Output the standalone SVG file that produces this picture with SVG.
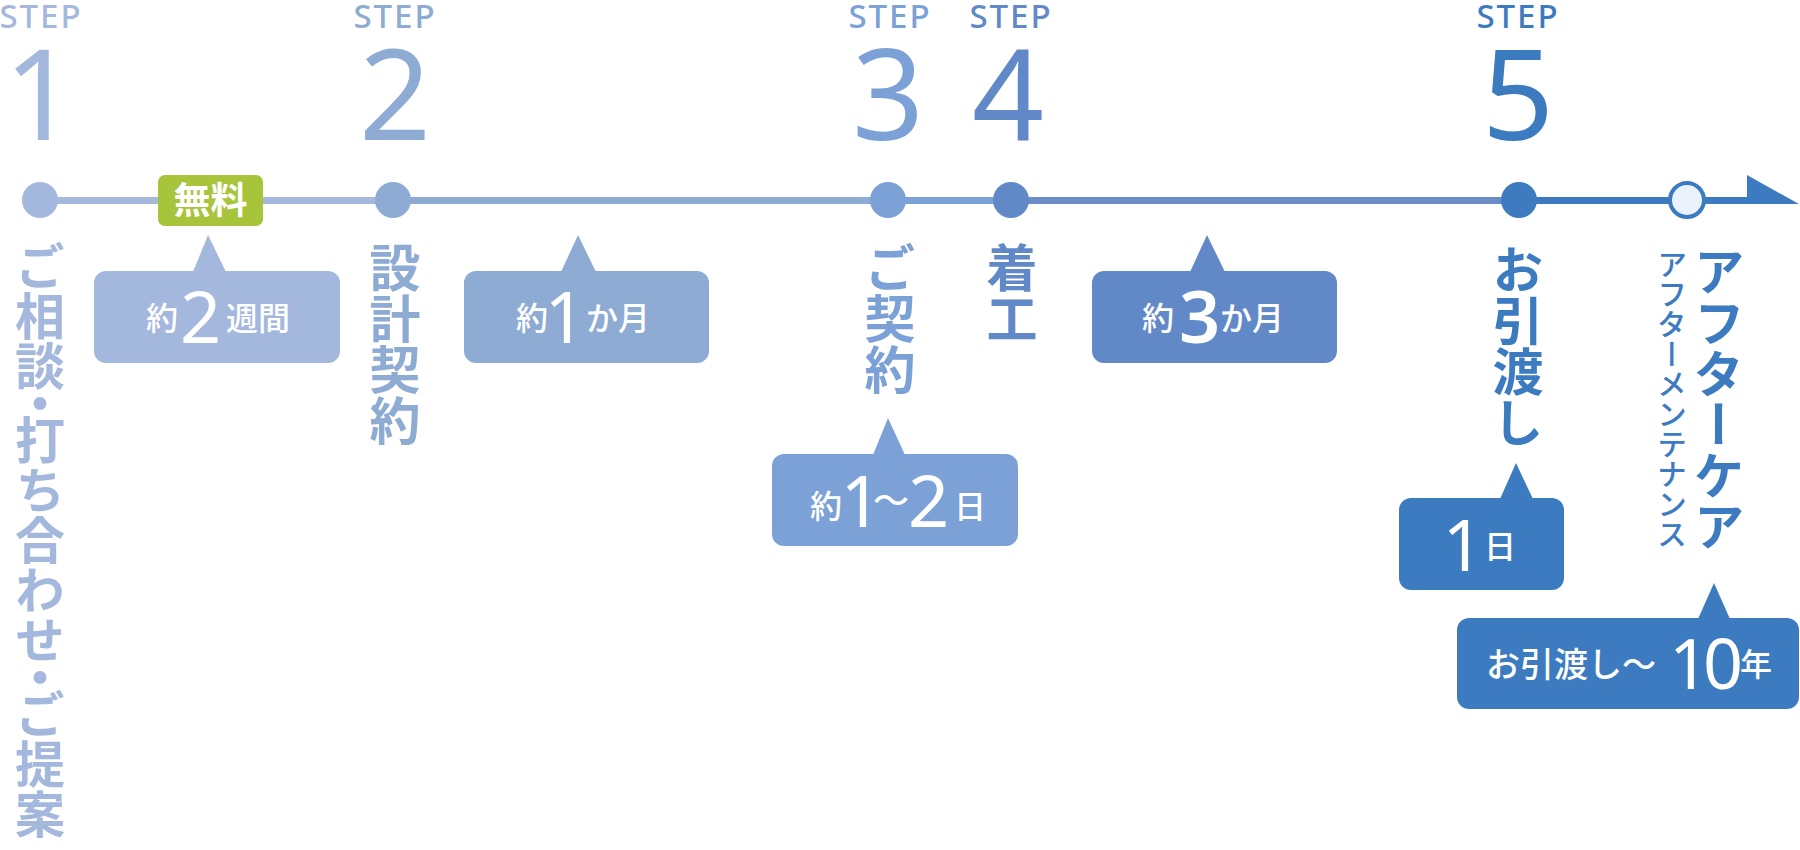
<svg xmlns="http://www.w3.org/2000/svg" width="1800" height="850" viewBox="0 0 1800 850">
<style>
.step{font-family:"Noto Sans",sans-serif;font-size:33px;font-weight:500;letter-spacing:2px;text-anchor:middle}
.num{font-family:"Noto Sans",sans-serif;font-size:126px;font-weight:400;text-anchor:middle}
.v{font-family:"Noto Sans CJK JP",sans-serif;font-weight:700;font-size:51px;writing-mode:vertical-rl}
.vs{font-family:"Noto Sans CJK JP",sans-serif;font-weight:500;font-size:30px;writing-mode:vertical-rl}
.cj{font-family:"Noto Sans CJK JP",sans-serif;font-weight:500;font-size:32px;fill:#fff}
.dg{font-family:"Noto Sans",sans-serif;font-weight:400;font-size:72px;fill:#fff}
.c1{fill:#a4b8de}.c2{fill:#8eabd3}.c3{fill:#7ca1d6}.c4{fill:#6289c7}.c5{fill:#3d7bc1}
</style>
<g id="connectors" stroke-width="7">
<line x1="40" y1="200.5" x2="393" y2="200.5" stroke="#a5b9dd"/>
<line x1="393" y1="200.5" x2="888" y2="200.5" stroke="#8eabd3"/>
<line x1="888" y1="200.5" x2="1011" y2="200.5" stroke="#7ca1d6"/>
<line x1="1011" y1="200.5" x2="1519" y2="200.5" stroke="#6a8dc8"/>
<line x1="1519" y1="200.5" x2="1750" y2="200.5" stroke="#3d7bc1"/>
<polygon points="1747,175 1747,204 1799,204" fill="#3d7bc1" stroke="none"/>
</g>
<g id="step1">
<text class="step c1" x="41" y="28">STEP</text>
<text class="num c1" x="40" y="140">1</text>
<circle class="c1" cx="40" cy="200" r="18"/>
<text class="v c1" x="40" y="241" style="font-size:50px">ご相談<tspan dy="-13">・</tspan><tspan dy="-13">打ち合わせ</tspan><tspan dy="-13">・</tspan><tspan dy="-13">ご提案</tspan></text>
</g>
<g id="badge-free">
<rect x="158" y="175" width="105" height="51" rx="7" fill="#a8c43a"/>
<text x="210.5" y="214" text-anchor="middle" style="font-family:'Noto Sans CJK JP',sans-serif;font-weight:700;font-size:37px;fill:#fff">無料</text>
</g>
<g id="callout1">
<rect class="c1" x="94" y="271" width="246" height="92" rx="12"/>
<polygon class="c1" points="193,272 208,235 226,272"/>
<text><tspan class="cj" x="146" y="330">約</tspan><tspan class="dg" x="180" y="343">2</tspan><tspan class="cj" x="226" y="330">週間</tspan></text>
</g>
<g id="step2">
<text class="step c2" x="395" y="28">STEP</text>
<text class="num c2" x="395" y="140">2</text>
<circle class="c2" cx="393" cy="200" r="18"/>
<text class="v c2" x="395" y="242">設計契約</text>
</g>
<g id="callout2">
<rect class="c2" x="464" y="271" width="245" height="92" rx="12"/>
<polygon class="c2" points="561,272 578,235 596,272"/>
<text><tspan class="cj" x="516" y="330">約</tspan><tspan class="dg" x="565" y="343" text-anchor="middle">1</tspan><tspan class="cj" x="586" y="330">か月</tspan></text>
</g>
<g id="step3">
<text class="step c3" x="890" y="28">STEP</text>
<text class="num c3" x="888" y="140">3</text>
<circle class="c3" cx="888" cy="200" r="18"/>
<text class="v c3" x="890" y="242">ご契約</text>
</g>
<g id="callout3">
<rect class="c3" x="772" y="454" width="246" height="92" rx="12"/>
<polygon class="c3" points="873,455 888,418 905,455"/>
<text><tspan class="cj" x="810" y="518">約</tspan><tspan class="dg" x="861" y="527" text-anchor="middle">1</tspan><tspan class="cj" x="873" y="514" style="font-size:36px">〜</tspan><tspan class="dg" x="908" y="527">2</tspan><tspan class="cj" x="954" y="518">日</tspan></text>
</g>
<g id="step4">
<text class="step c4" x="1011" y="28">STEP</text>
<text class="num c4" x="1008" y="140">4</text>
<circle class="c4" cx="1011" cy="200" r="18"/>
<text class="v c4" x="1012" y="242">着工</text>
</g>
<g id="callout4">
<rect class="c4" x="1092" y="271" width="245" height="92" rx="12"/>
<polygon class="c4" points="1190,272 1207,235 1225,272"/>
<text><tspan class="cj" x="1142" y="330">約</tspan><tspan class="dg" x="1179" y="343" style="font-weight:600">3</tspan><tspan class="cj" x="1220" y="330">か月</tspan></text>
</g>
<g id="step5">
<text class="step c5" x="1518" y="28">STEP</text>
<text class="num c5" x="1518" y="140">5</text>
<circle class="c5" cx="1519" cy="200" r="18"/>
<text class="v c5" x="1518" y="244">お引渡し</text>
</g>
<g id="callout5">
<rect class="c5" x="1399" y="498" width="165" height="92" rx="12"/>
<polygon class="c5" points="1500,499 1516,463 1533,499"/>
<text><tspan class="dg" x="1463" y="571" text-anchor="middle">1</tspan><tspan class="cj" x="1484" y="558">日</tspan></text>
</g>
<g id="aftercare">
<circle cx="1687" cy="200" r="17" fill="#eaf2fc" stroke="#3d7bc1" stroke-width="4"/>
<text class="v c5" x="1719" y="246">アフターケア</text>
<text class="vs c5" x="1672" y="249">アフターメンテナンス</text>
</g>
<g id="callout6">
<rect class="c5" x="1457" y="618" width="342" height="91" rx="12"/>
<polygon class="c5" points="1698,619 1714,583 1730,619"/>
<text><tspan class="cj" x="1486" y="677" style="font-size:34px">お引渡し〜</tspan><tspan class="dg" x="1703" y="689" text-anchor="middle" style="font-size:70px;letter-spacing:-6px">10</tspan><tspan class="cj" x="1740" y="676">年</tspan></text>
</g>
</svg>
